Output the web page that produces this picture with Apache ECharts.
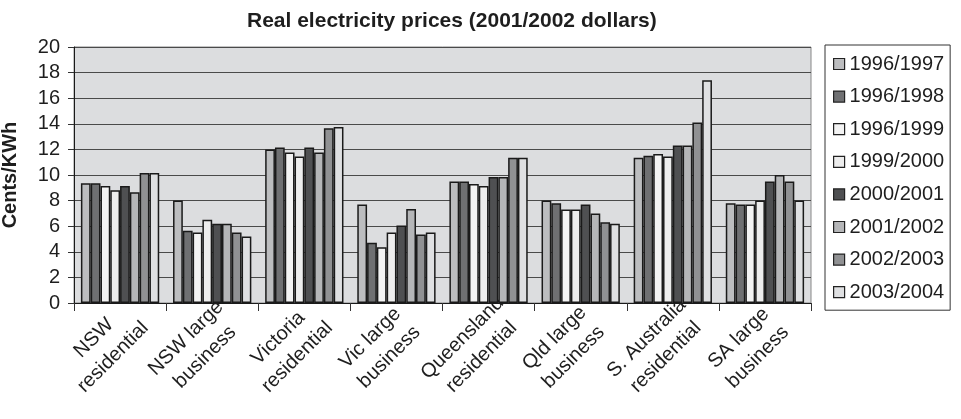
<!DOCTYPE html>
<html>
<head>
<meta charset="utf-8">
<script src="https://cdn.jsdelivr.net/npm/echarts@6/dist/echarts.min.js"></script>
<style>
  html, body { margin: 0; padding: 0; background: #fff; }
  #chart { width: 961px; height: 419px; }
</style>
</head>
<body>
<div id="chart"></div>
<script>
// Market segments along the x axis
const categories = [
  'NSW\nresidential', 'NSW large\nbusiness', 'Victoria\nresidential', 'Vic large\nbusiness',
  'Queensland\nresidential', 'Qld large\nbusiness', 'S. Australia\nresidential', 'SA large\nbusiness'
];

// Financial years (legend order)
const years = ['1996/1997', '1996/1998', '1996/1999', '1999/2000',
               '2000/2001', '2001/2002', '2002/2003', '2003/2004'];

// Real prices, cents per kWh, one array per year
const y1996_97 = [9.35, 8.0, 12.0, 7.7, 9.5, 8.0, 11.35, 7.8];
const y1996_98 = [9.35, 5.65, 12.15, 4.7, 9.5, 7.8, 11.5, 7.7];
const y1996_99 = [9.15, 5.5, 11.75, 4.35, 9.3, 7.3, 11.65, 7.7];
const y1999_00 = [8.8, 6.5, 11.45, 5.5, 9.15, 7.3, 11.45, 8.0];
const y2000_01 = [9.15, 6.2, 12.15, 6.05, 9.85, 7.7, 12.3, 9.5];
const y2001_02 = [8.65, 6.2, 11.75, 7.35, 9.85, 7.0, 12.3, 10.0];
const y2002_03 = [10.15, 5.5, 13.65, 5.35, 11.35, 6.3, 14.1, 9.5];
const y2003_04 = [10.15, 5.2, 13.75, 5.5, 11.35, 6.2, 17.4, 8.0];

const yearValues = [y1996_97, y1996_98, y1996_99, y1999_00, y2000_01, y2001_02, y2002_03, y2003_04];

// Greyscale fills per year
const fills = ['#bcbdbf', '#6f7072', '#f3f3f3', '#ededed', '#4f5052', '#b5b6b8', '#909193', '#dfe0e2'];

const FONT = '"Liberation Sans", Arial, Helvetica, sans-serif';
const TEXT = '#1e1e1e';

const chart = echarts.init(document.getElementById('chart'), null, { renderer: 'canvas' });

const series = years.map((name, i) => ({
  name,
  type: 'bar',
  data: yearValues[i],
  barGap: '0%',
  barCategoryGap: '15%',
  itemStyle: { color: fills[i], borderColor: '#1a1a1a', borderWidth: 1.5 },
  emphasis: { disabled: true },
  animation: false
}));

chart.setOption({
  animation: false,
  textStyle: { fontFamily: FONT },
  title: {
    text: 'Real electricity prices (2001/2002 dollars)',
    left: 242,
    top: 6,
    textStyle: { fontFamily: FONT, fontSize: 21, fontWeight: 'bold', color: TEXT }
  },
  legend: {
    orient: 'vertical',
    left: 825,
    top: 45,
    width: 132,
    padding: [9, 6, 8, 8],
    itemGap: 12.6,
    itemWidth: 11,
    itemHeight: 11,
    itemTextGap: 11,
    icon: 'rect',
    borderColor: '#333',
    borderWidth: 1,
    backgroundColor: '#fff',
    itemStyle: { borderColor: '#222', borderWidth: 1.2 },
    textStyle: { fontFamily: FONT, fontSize: 20, lineHeight: 20, color: TEXT },
    data: years
  },
  grid: {
    left: 74,
    right: 150,
    top: 47,
    bottom: 116,
    containLabel: false,
    outerBoundsMode: 'none',
    show: true,
    backgroundColor: '#dcdddf',
    borderColor: '#888',
    borderWidth: 1
  },
  xAxis: {
    type: 'category',
    data: categories,
    axisLine: { lineStyle: { color: '#1a1a1a', width: 1 } },
    axisTick: { show: true, length: 8, lineStyle: { color: '#333' } },
    axisLabel: {
      interval: 0,
      rotate: 45,
      align: 'center',
      verticalAlign: 'middle',
      margin: 28,
      padding: [0, 47, 0, 0],
      fontFamily: FONT,
      fontSize: 20,
      lineHeight: 27,
      color: TEXT
    }
  },
  yAxis: {
    type: 'value',
    min: 0,
    max: 20,
    interval: 2,
    name: 'Cents/KWh',
    nameLocation: 'middle',
    nameGap: 54,
    nameTextStyle: { fontFamily: FONT, fontSize: 20, fontWeight: 'bold', color: TEXT },
    axisLine: { show: true, lineStyle: { color: '#1a1a1a', width: 1 } },
    axisTick: { show: true, inside: false, length: 6, lineStyle: { color: '#333' } },
    axisLabel: { margin: 14, fontFamily: FONT, fontSize: 20, color: TEXT },
    splitLine: { show: true, lineStyle: { color: '#4a4a4a', width: 1.2 } }
  },
  series
});
</script>
</body>
</html>
